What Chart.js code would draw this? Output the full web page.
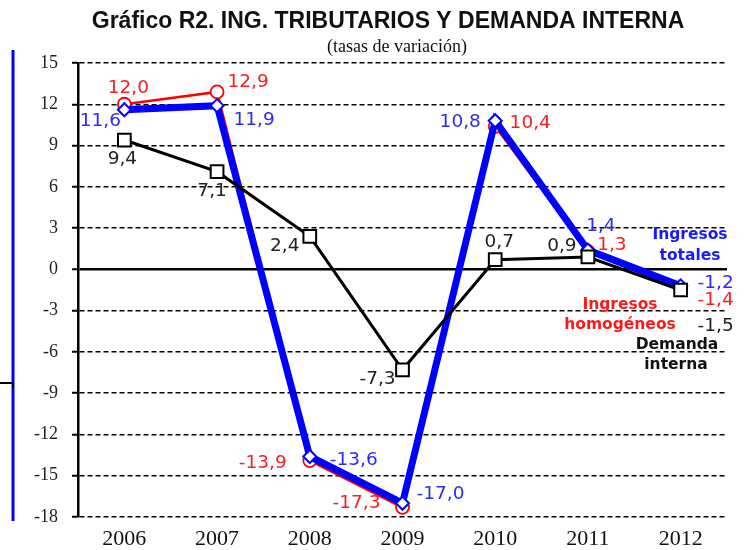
<!DOCTYPE html>
<html>
<head>
<meta charset="utf-8">
<script src="https://cdn.jsdelivr.net/npm/chart.js@4/dist/chart.umd.min.js"></script>
<style>
  html, body { margin: 0; padding: 0; background: #fff; }
  #wrap { width: 745px; height: 550px; }
</style>
</head>
<body>
<div id="wrap"><canvas id="chartR2" width="745" height="550"></canvas></div>
<script>
// datos (tasas de variación, %)
const years = ['2006', '2007', '2008', '2009', '2010', '2011', '2012'];
const ingresosTotales = [11.6, 11.9, -13.6, -17.0, 10.8, 1.4, -1.2];
const ingresosHomogeneos = [12.0, 12.9, -13.9, -17.3, 10.4, 1.3, -1.4];
const demandaInterna = [9.4, 7.1, 2.4, -7.3, 0.7, 0.9, -1.5];
const yMin = -18, yMax = 15, yStep = 3;

// desplazamiento de las etiquetas respecto al punto (px)
const offTotales = [[-24, 11], [37, 15], [44, 4], [38, -9], [-35, 1], [13, -24], [35, -3]];
const offHomog = [[4, -16], [31, -10], [-47, 3], [-46, -4], [35, -3], [24, -6], [35, 12]];
const offDemanda = [[-2, 19], [-5, 20], [-25, 10], [-25, 9], [4, -18], [-26, -11], [35, 36]];

const fmt = v => v.toFixed(1).replace('.', ',');

// etiquetas de datos, títulos y nombres de series
const textPlugin = {
    id: 'textos',
    afterDatasetsDraw(chart) {
        const ctx = chart.ctx;
        ctx.save();
        ctx.textAlign = 'center';
        ctx.textBaseline = 'middle';
        ctx.font = "18.5px 'DejaVu Sans'";
        chart.data.datasets.forEach((ds, i) => {
            const meta = chart.getDatasetMeta(i);
            meta.data.forEach((pt, j) => {
                const o = ds.labelOffsets[j];
                ctx.fillStyle = ds.labelColor;
                ctx.fillText(fmt(ds.data[j]), pt.x + o[0], pt.y + o[1]);
            });
        });

        // nombres de las series
        ctx.font = "bold 15.5px 'DejaVu Sans'";
        ctx.fillStyle = '#1a1aff';
        ctx.fillText('Ingresos', 690, 235);
        ctx.fillText('totales', 690, 256);
        ctx.fillStyle = '#ff1a1a';
        ctx.fillText('Ingresos', 620, 305);
        ctx.fillText('homogéneos', 620, 325);
        ctx.fillStyle = '#111';
        ctx.fillText('Demanda', 677, 345);
        ctx.fillText('interna', 676, 365);
        ctx.restore();
    },
    beforeDraw(chart) {
        const ctx = chart.ctx;
        ctx.save();
        ctx.fillStyle = '#fff';
        ctx.fillRect(0, 0, chart.width, chart.height);
        ctx.textAlign = 'center';
        ctx.textBaseline = 'middle';
        ctx.fillStyle = '#111';
        ctx.font = "bold 23px 'Liberation Sans'";
        ctx.fillText('Gráfico R2. ING. TRIBUTARIOS Y DEMANDA INTERNA', 388, 22);
        ctx.font = "18px 'Liberation Serif'";
        ctx.fillText('(tasas de variación)', 397, 47);

        // líneas sueltas del margen izquierdo
        ctx.strokeStyle = '#0000ff';
        ctx.lineWidth = 3;
        ctx.beginPath();
        ctx.moveTo(13, 50);
        ctx.lineTo(13, 521);
        ctx.stroke();
        ctx.strokeStyle = '#000';
        ctx.lineWidth = 2;
        ctx.beginPath();
        ctx.moveTo(0, 383);
        ctx.lineTo(13, 383);
        ctx.lineTo(13, 388);
        ctx.stroke();
        ctx.restore();
    }
};

function initChart() {
    const canvas = document.getElementById('chartR2');
    const ctx = canvas.getContext('2d');
    new Chart(ctx, {
        type: 'line',
        data: {
            labels: years,
            datasets: [
                {
                    label: 'Demanda interna',
                    data: demandaInterna,
                    borderColor: '#000',
                    borderWidth: 3,
                    pointStyle: 'rect',
                    pointRadius: 9,
                    pointBorderWidth: 2,
                    pointBackgroundColor: '#fff',
                    pointBorderColor: '#000',
                    labelColor: '#222',
                    labelOffsets: offDemanda,
                    order: 1
                },
                {
                    label: 'Ingresos totales',
                    data: ingresosTotales,
                    borderColor: '#0000ff',
                    borderWidth: 7,
                    pointStyle: 'rectRot',
                    pointRadius: 6.5,
                    pointBorderWidth: 2,
                    pointBackgroundColor: '#fff',
                    pointBorderColor: '#0000ff',
                    labelColor: '#2b2bf5',
                    labelOffsets: offTotales,
                    order: 2
                },
                {
                    label: 'Ingresos homogéneos',
                    data: ingresosHomogeneos,
                    borderColor: '#ff0000',
                    borderWidth: 2.5,
                    pointStyle: 'circle',
                    pointRadius: 6.5,
                    pointBorderWidth: 1.8,
                    pointBackgroundColor: '#fff',
                    pointBorderColor: '#ff0000',
                    labelColor: '#f52020',
                    labelOffsets: offHomog,
                    order: 3
                }
            ]
        },
        options: {
            responsive: false,
            animation: false,
            clip: false,
            tension: 0,
            layout: { padding: { top: 63, right: 18, left: 0, bottom: 0 } },
            plugins: {
                legend: { display: false },
                tooltip: { enabled: false }
            },
            scales: {
                x: {
                    offset: true,
                    grid: { display: false },
                    border: { display: false },
                    ticks: {
                        color: '#111',
                        padding: 1,
                        font: { family: 'Liberation Serif', size: 22 }
                    },
                    afterFit: s => { s.height = 33; }
                },
                y: {
                    min: yMin,
                    max: yMax,
                    ticks: {
                        stepSize: yStep,
                        color: '#222',
                        padding: 14,
                        font: { family: 'Liberation Serif', size: 18 }
                    },
                    grid: {
                        color: '#000',
                        lineWidth: c => (c.tick && c.tick.value === 0) ? 2.5 : 1.5,
                        tickLength: 6,
                        tickWidth: 2,
                        tickColor: '#000',
                        tickBorderDash: []
                    },
                    border: {
                        display: true,
                        color: '#000',
                        width: 2.5,
                        dash: c => (c.tick && c.tick.value === 0) ? [] : [5, 3]
                    },
                    afterFit: s => { s.width = 78; }
                }
            }
        },
        plugins: [textPlugin]
    });
}

window.onload = initChart;
</script>
</body>
</html>
